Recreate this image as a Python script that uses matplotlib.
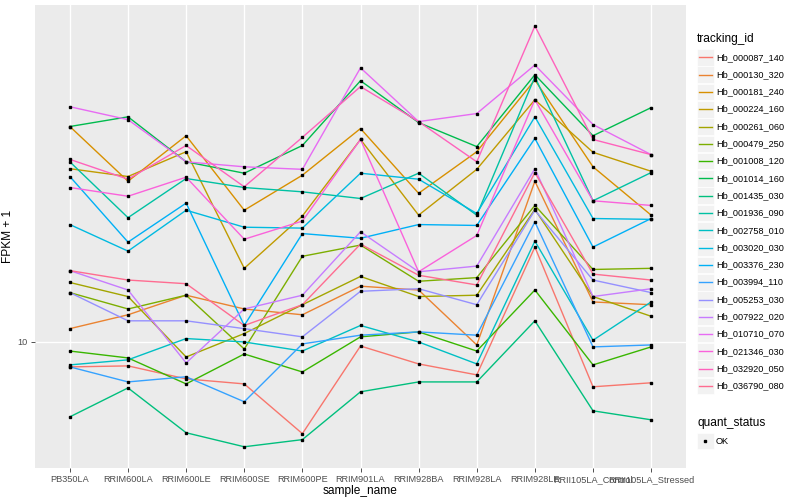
import matplotlib
matplotlib.use("Agg")
import matplotlib.pyplot as plt
from matplotlib.patches import Rectangle
from matplotlib.lines import Line2D

samples = ["PB350LA", "RRIM600LA", "RRIM600LE", "RRIM600SE", "RRIM600PE",
           "RRIM901LA", "RRIM928BA", "RRIM928LA", "RRIM928LE",
           "RRII105LA_Control", "RRII105LA_Stressed"]

tracking_ids = ["Hb_000087_140", "Hb_000130_320", "Hb_000181_240", "Hb_000224_160",
                "Hb_000261_060", "Hb_000479_250", "Hb_001008_120", "Hb_001014_160",
                "Hb_001435_030", "Hb_001936_090", "Hb_002758_010", "Hb_003020_030",
                "Hb_003376_230", "Hb_003994_110", "Hb_005253_030", "Hb_007922_020",
                "Hb_010710_070", "Hb_021346_030", "Hb_032920_050", "Hb_036790_080"]

hb_000087_140 = [8.66, 8.71, 8.08, 7.85, 5.89, 9.77, 8.81, 8.27, 17.3, 7.72, 7.90]
hb_000130_320 = [10.8, 11.7, 13.1, 12.1, 11.7, 13.8, 13.5, 9.83, 25.3, 12.6, 12.4]
hb_000181_240 = [34.7, 25.3, 32.9, 21.4, 26.2, 34.3, 23.6, 30.0, 45.4, 27.5, 20.8]
hb_000224_160 = [27.2, 26.0, 30.0, 15.3, 20.7, 32.2, 20.8, 27.1, 40.5, 29.9, 26.8]
hb_000261_060 = [14.1, 13.0, 9.17, 10.5, 12.4, 14.6, 13.0, 13.1, 21.5, 13.0, 11.6]
hb_000479_250 = [13.3, 12.1, 13.1, 9.60, 16.4, 17.5, 14.2, 14.5, 22.0, 15.2, 15.3]
hb_001008_120 = [9.49, 9.12, 7.85, 9.33, 8.41, 10.3, 10.6, 9.49, 13.5, 8.76, 9.72]
hb_001014_160 = [34.7, 36.7, 28.3, 26.5, 31.1, 45.2, 35.5, 30.9, 46.8, 32.9, 38.7]
hb_001435_030 = [6.49, 7.67, 5.92, 5.46, 5.69, 7.50, 7.94, 7.94, 11.3, 6.72, 6.38]
hb_001936_090 = [28.3, 20.5, 25.7, 24.4, 23.8, 22.9, 26.5, 20.8, 46.2, 22.6, 26.6]
hb_002758_010 = [8.76, 9.02, 10.2, 10.0, 9.49, 11.0, 10.0, 8.81, 17.9, 10.1, 12.6]
hb_003020_030 = [19.7, 16.9, 21.4, 19.4, 19.3, 26.5, 25.6, 21.0, 36.7, 20.4, 20.3]
hb_003376_230 = [26.0, 17.8, 22.3, 11.0, 18.7, 18.2, 19.7, 19.6, 32.4, 17.3, 20.4]
hb_003994_110 = [8.66, 7.94, 8.18, 7.08, 9.89, 10.4, 10.6, 10.4, 20.0, 9.72, 9.83]
hb_005253_030 = [13.3, 11.3, 11.3, 10.8, 10.3, 13.4, 13.6, 12.4, 21.4, 14.3, 13.3]
hb_007922_020 = [15.1, 13.5, 8.86, 12.1, 13.1, 18.9, 15.0, 15.5, 27.2, 13.0, 13.6]
hb_010710_070 = [38.9, 36.1, 28.3, 27.5, 27.1, 48.7, 35.7, 37.4, 49.5, 35.1, 29.5]
hb_021346_030 = [24.4, 23.2, 25.9, 18.1, 20.1, 32.2, 15.0, 18.5, 40.5, 22.6, 22.0]
hb_032920_050 = [28.7, 25.6, 31.1, 24.5, 32.6, 43.7, 35.7, 28.3, 62.0, 32.2, 29.5]
hb_036790_080 = [15.1, 14.3, 14.0, 11.0, 12.4, 17.6, 14.7, 13.9, 26.6, 14.8, 14.3]

series = [hb_000087_140, hb_000130_320, hb_000181_240, hb_000224_160, hb_000261_060,
          hb_000479_250, hb_001008_120, hb_001014_160, hb_001435_030, hb_001936_090,
          hb_002758_010, hb_003020_030, hb_003376_230, hb_003994_110, hb_005253_030,
          hb_007922_020, hb_010710_070, hb_021346_030, hb_032920_050, hb_036790_080]

y_ticks = [10]
y_tick_labels = ["10"]
status_labels = ["OK"]

colors = ["#F8766D", "#EA8331", "#D89000", "#C09B00", "#A3A500", "#7CAE00", "#39B600",
          "#00BB4E", "#00BF7D", "#00C1A3", "#00BFC4", "#00BAE0", "#00B0F6", "#35A2FF",
          "#9590FF", "#C77CFF", "#E76BF3", "#FA62DB", "#FF62BC", "#FF6C91"]

FONT = "Liberation Sans"
W, H = 800, 500
fig = plt.figure(figsize=(8, 5), dpi=100)
ax = fig.add_axes([35 / W, 1 - 468 / H, (686 - 35) / W, (468 - 5) / H])
ax.set_facecolor("#EBEBEB")

x = list(range(1, len(samples) + 1))
for vals, col in zip(series, colors):
    ax.plot(x, vals, color=col, lw=1.0, zorder=3)
for vals in series:
    ax.plot(x, vals, ls="none", marker="s", ms=2.1, color="black", zorder=4)

ax.set_yscale("log")
ax.set_ylim(4.83, 70.0)
ax.set_xlim(0.4, len(samples) + 0.6)
ax.set_yticks(y_ticks)
ax.set_yticklabels(y_tick_labels)
ax.yaxis.set_minor_locator(matplotlib.ticker.NullLocator())
ax.set_xticks(x)
ax.set_xticklabels(samples)
ax.grid(True, which="major", color="white", lw=1.0, zorder=0)
ax.set_axisbelow(True)
for s in ax.spines.values():
    s.set_visible(False)
ax.tick_params(axis="both", length=3, width=0.6, color="#333333",
               labelcolor="#4D4D4D", labelsize=6.6, pad=2)
for lab in ax.get_xticklabels() + ax.get_yticklabels():
    lab.set_fontfamily(FONT)
ax.set_xlabel("sample_name", fontsize=8.6, family=FONT, labelpad=0.5)
ax.set_ylabel("FPKM + 1", fontsize=8.6, family=FONT)
ax.yaxis.set_label_coords(-0.033, 0.5)

def fx(px):
    return px / W

def fy(py):
    return 1 - py / H

fig.text(fx(697), fy(39), "tracking_id", fontsize=8.6, family=FONT, va="center", ha="left")
step = 17.3
for i, (tid, col) in enumerate(zip(tracking_ids, colors)):
    cy = 57.3 + i * step
    fig.add_artist(Rectangle((fx(697), fy(cy + 8.3)), 16.6 / W, 16.6 / H,
                             facecolor="#F2F2F2", edgecolor="white", lw=0.5,
                             transform=fig.transFigure))
    fig.add_artist(Line2D([fx(699), fx(712)], [fy(cy), fy(cy)], color=col, lw=1.0,
                          transform=fig.transFigure))
    fig.text(fx(716), fy(cy), tid, fontsize=6.6, family=FONT, va="center", ha="left")

fig.text(fx(697), fy(423), "quant_status", fontsize=8.6, family=FONT, va="center", ha="left")
for j, lab in enumerate(status_labels):
    cy = 441 + j * step
    fig.add_artist(Rectangle((fx(697), fy(cy + 8.3)), 16.6 / W, 16.6 / H,
                             facecolor="#F2F2F2", edgecolor="white", lw=0.5,
                             transform=fig.transFigure))
    fig.add_artist(Line2D([fx(705)], [fy(cy)], marker="s", ms=2.1, color="black", ls="none",
                          transform=fig.transFigure))
    fig.text(fx(716), fy(cy), lab, fontsize=6.6, family=FONT, va="center", ha="left")

fig.savefig("out.png", dpi=100, facecolor="white")
